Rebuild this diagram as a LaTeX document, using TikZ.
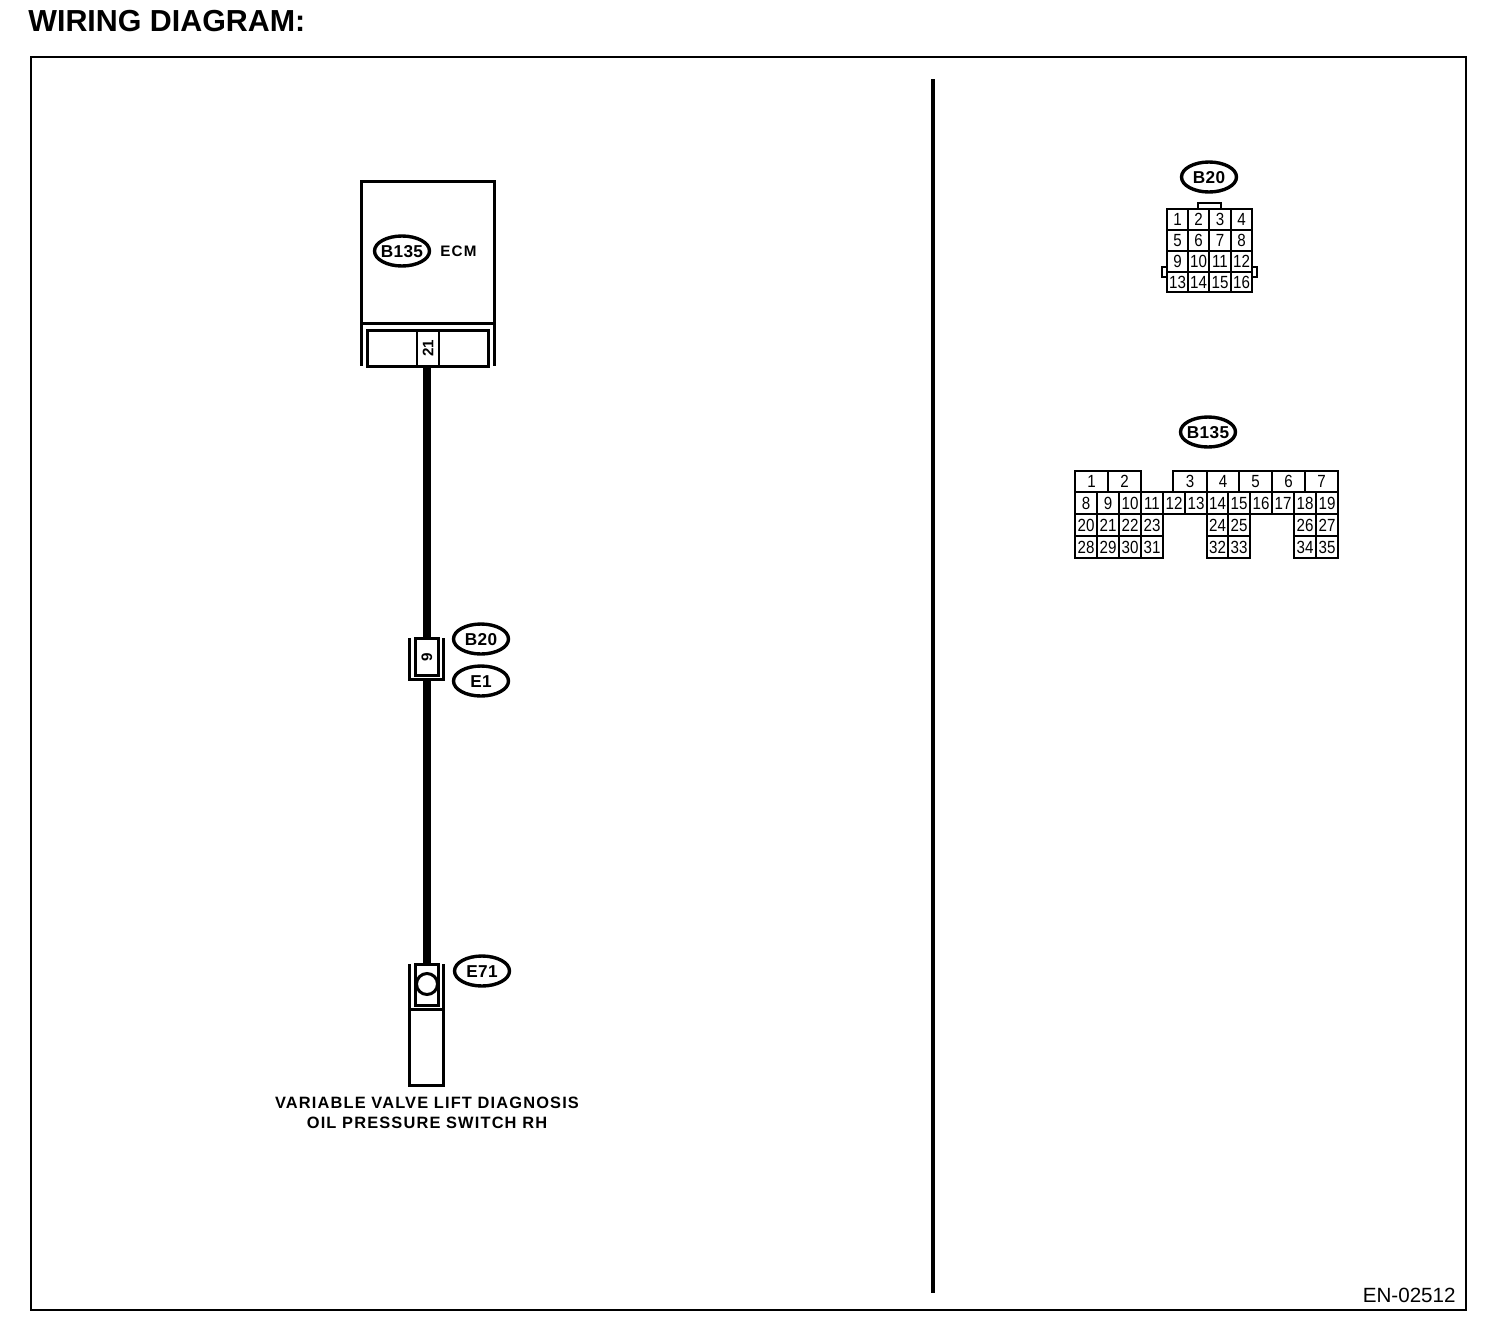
\documentclass[tikz,border=0pt]{standalone}
\usepackage{fontspec}
\setmainfont{Liberation Sans}
\usetikzlibrary{shapes.geometric}
\newcommand{\pincell}[6]{%
  \draw[gridline] (#2,#4) rectangle node[pintext] (#1) {#6} (#3,#5);}
\newcommand{\pinrow}[4]{% y1, y2, list of x1/x2/text, prefix
  \foreach \xa/\xb/\lab in {#3} {\pincell{#4\lab}{\xa}{\xb}{#1}{#2}{\lab}}}
\newcommand{\idtext}[1]{\makebox[0pt]{#1}}
\tikzset{
  x=0.5pt, y=-0.5pt,
  gridline/.style={draw=black, line width=0.7pt},
  pintext/.style={inner sep=0pt, text height=6.2pt, text depth=0pt, font=\fontsize{8.8}{9}\addfontfeature{FakeStretch=0.86}\selectfont, text=black},
  heavy/.style={draw=black, line width=1.5pt},
  wire/.style={draw=black, line width=3.6pt},
  connid/.style={ellipse, draw=black, line width=1.7pt, minimum width=27.5pt, minimum height=15pt, inner sep=0pt, text height=6pt, text depth=0pt,
     font=\fontsize{8.6}{9}\bfseries\addfontfeature{LetterSpace=2}\selectfont},
  lbl/.style={inner sep=0pt, align=center, font=\fontsize{8.2}{10}\bfseries\addfontfeature{LetterSpace=7}\selectfont},
  pinbox/.style={draw=black, line width=1.5pt, inner sep=0pt, outer sep=0pt},
  pinnum/.style={inner sep=0pt, rotate=90, font=\fontsize{7.6}{9}\bfseries\selectfont},
}
\begin{document}
\begin{tikzpicture}
\useasboundingbox (0,0) rectangle (1504,1328);
% title and frame
\node[anchor=base west, inner sep=0pt, font=\fontsize{15.2}{16}\bfseries\selectfont] (title) at (28,31) {WIRING DIAGRAM:};
\node[draw=black, line width=1pt, minimum width=717.5pt, minimum height=626.5pt, inner sep=0pt] (frame) at (748.5,683.5) {};
\coordinate (divt) at (933,79);
\coordinate (divb) at (933,1293);
\draw[black, line width=2pt] (divt) -- (divb);
\node[anchor=base east, inner sep=0pt, font=\fontsize{10.3}{12}\selectfont] (code) at (1456,1302) {EN-02512};

% ECM
\node[pinbox, minimum width=66.5pt, minimum height=71pt] (ecm) at (427.5,252) {};
\draw[heavy] (361,323) -- (361,366);
\draw[heavy] (494,323) -- (494,366);
\node[pinbox, minimum width=60.5pt, minimum height=18pt] (ecmconn) at (427.5,348) {};
\node[pinbox, line width=1.1pt, minimum width=11pt, minimum height=18pt] (ecmpin) at (428,348) {};
\node[pinnum] (n21) at (428,348) {21};
\node[connid] (idecm) at (402,251) {\idtext{B135}};
\node[lbl, anchor=west, font=\fontsize{7.6}{9}\bfseries\addfontfeature{LetterSpace=8}\selectfont] (ecmname) at (440,251) {ECM};

% B20/E1 connector
\draw[heavy] (409,638) -- (409,679) -- (443,679) -- (443,638);
\node[pinbox, minimum width=11.5pt, minimum height=18.5pt, fill=white] (b20pin) at (427,657) {};
\node[pinnum] (n9) at (427,657) {9};
\node[connid] (idb20) at (481,639) {\idtext{B20}};
\node[connid] (ide1) at (481,681) {\idtext{E1}};

% switch E71
\draw[heavy] (409,964) -- (409,1085) -- (443,1085) -- (443,964);
\draw[heavy] (409,1009) -- (443,1009);
\node[pinbox, minimum width=11.5pt, minimum height=20.5pt] (e71pin) at (427,984.5) {};
\node[circle, draw=black, line width=1.5pt, minimum size=10.5pt, inner sep=0pt] (e71c) at (427,984) {};
\node[connid] (ide71) at (482,971) {\idtext{E71}};
\node[lbl] (swname) at (427,1113) {VARIABLE VALVE LIFT DIAGNOSIS\\OIL PRESSURE SWITCH RH};

% harness
\draw[wire] (ecmconn.south -| 427,0) -- (427,0 |- b20pin.north);
\draw[wire] (427,0 |- 0,680) -- (427,0 |- e71pin.north);

% B20 face view
\node[connid] (topb20) at (1209,177) {\idtext{B20}};
\draw[gridline] (1198,208) -- (1198,203) -- (1221,203) -- (1221,208);
\draw[gridline] (1167,267) -- (1162,267) -- (1162,277) -- (1167,277);
\draw[gridline] (1252,267) -- (1257,267) -- (1257,277) -- (1252,277);
\pinrow{209}{230}{1167/1188/1,1188/1209/2,1209/1231/3,1231/1252/4}{a}
\pinrow{230}{251}{1167/1188/5,1188/1209/6,1209/1231/7,1231/1252/8}{a}
\pinrow{251}{272}{1167/1188/9,1188/1209/10,1209/1231/11,1231/1252/12}{a}
\pinrow{272}{292}{1167/1188/13,1188/1209/14,1209/1231/15,1231/1252/16}{a}

% B135 face view
\node[connid] (topb135) at (1208,432) {\idtext{B135}};
\pinrow{471}{492}{1075/1108/1,1108/1141/2,1173/1207/3,1207/1239/4,1239/1272/5,1272/1305/6,1305/1338/7}{b}
\pinrow{492}{514}{1075/1097/8,1097/1119/9,1119/1141/10,1141/1163/11,1163/1185/12,1185/1207/13,1207/1228/14,1228/1250/15,1250/1272/16,1272/1294/17,1294/1316/18,1316/1338/19}{b}
\pinrow{514}{536}{1075/1097/20,1097/1119/21,1119/1141/22,1141/1163/23,1207/1228/24,1228/1250/25,1294/1316/26,1316/1338/27}{b}
\pinrow{536}{558}{1075/1097/28,1097/1119/29,1119/1141/30,1141/1163/31,1207/1228/32,1228/1250/33,1294/1316/34,1316/1338/35}{b}
\end{tikzpicture}
\end{document}
